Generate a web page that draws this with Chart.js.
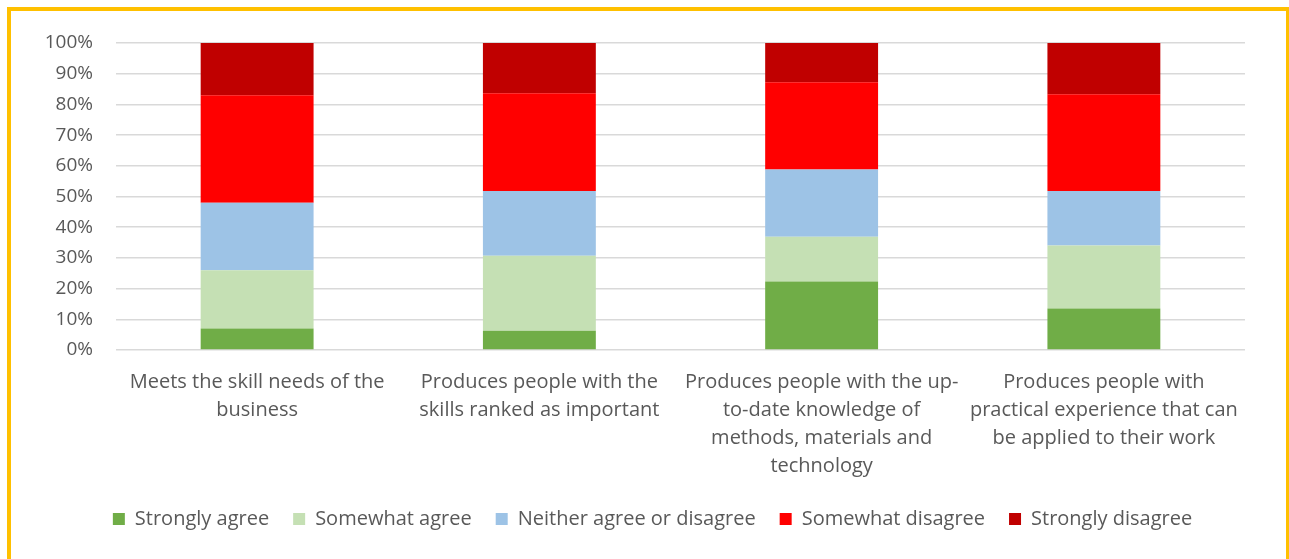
<!DOCTYPE html>
<html>
<head>
<meta charset="utf-8">
<script src="https://cdn.jsdelivr.net/npm/chart.js@4.4.1/dist/chart.umd.min.js"></script>
<style>
  html, body { margin: 0; padding: 0; background: #fff; }
  #wrap { position: relative; width: 1289px; height: 559px; }
  #frame { position: absolute; left: 7px; top: 7px; width: 1275px; height: 560px; border: 4px solid #FFC000; pointer-events: none; }
  canvas { position: absolute; left: 0; top: 0; }
</style>
</head>
<body>
<div id="wrap">
  <canvas id="chart" width="1289" height="559"></canvas>
  <div id="frame"></div>
</div>
<script>
// категории (подписи по оси X, многострочные)
const categories = [
    ['Meets the skill needs of the', 'business'],
    ['Produces people with the', 'skills ranked as important'],
    ['Produces people with the up-', 'to-date knowledge of', 'methods, materials and', 'technology'],
    ['Produces people with', 'practical experience that can', 'be applied to their work']
];

// доли ответов, %
const stronglyAgree = [7, 6.3, 22.3, 13.5];
const somewhatAgree = [19, 24.4, 14.6, 20.5];
const neitherAgree = [22, 21.1, 21.9, 17.8];
const somewhatDisagree = [35, 31.8, 28.4, 31.5];
const stronglyDisagree = [17, 16.4, 12.8, 16.7];

const yTicks = [0, 10, 20, 30, 40, 50, 60, 70, 80, 90, 100];

const textColor = '#595959';
const fontFamily = '"Open Sans", "Noto Sans", sans-serif';

function makeSet(label, data, color) {
    return {
        label: label,
        data: data,
        backgroundColor: color,
        borderWidth: 0,
        barPercentage: 0.4,
        categoryPercentage: 1
    };
}

// сдвигаем легенду вправо, чтобы она стояла по центру рамки
const legendShift = {
    id: 'legendShift',
    afterLayout(chart) {
        chart.legend.left += 30;
        chart.legend.right += 30;
    }
};

new Chart(document.getElementById('chart'), {
    type: 'bar',
    data: {
        labels: categories,
        datasets: [
            makeSet('Strongly agree', stronglyAgree, '#70AD47'),
            makeSet('Somewhat agree', somewhatAgree, '#C5E0B4'),
            makeSet('Neither agree or disagree', neitherAgree, '#9DC3E6'),
            makeSet('Somewhat disagree', somewhatDisagree, '#FF0000'),
            makeSet('Strongly disagree', stronglyDisagree, '#C00000')
        ]
    },
    plugins: [legendShift],
    options: {
        responsive: false,
        animation: false,
        layout: { padding: { top: 43, right: 44, left: 0, bottom: 20 } },
        plugins: {
            tooltip: { enabled: false },
            legend: {
                position: 'bottom',
                labels: {
                    color: textColor,
                    font: { family: fontFamily, size: 20 },
                    boxWidth: 12,
                    boxHeight: 12,
                    padding: 24
                }
            }
        },
        scales: {
            x: {
                stacked: true,
                grid: { display: false, drawTicks: false },
                border: { display: false },
                ticks: {
                    color: textColor,
                    font: { family: fontFamily, size: 20, lineHeight: 1.4 },
                    padding: 18,
                    maxRotation: 0,
                    autoSkip: false
                },
                afterFit: function (scale) { scale.height = 135; }
            },
            y: {
                stacked: true,
                min: 0,
                max: 100,
                afterBuildTicks: function (scale) {
                    scale.ticks = yTicks.map(v => ({ value: v }));
                },
                grid: { color: '#d9d9d9', lineWidth: 1.5, drawTicks: false },
                border: { display: false },
                ticks: {
                    color: textColor,
                    font: { family: fontFamily, size: 19 },
                    padding: 23,
                    callback: v => v + '%'
                },
                afterFit: function (scale) { scale.width = 116; }
            }
        }
    }
});
</script>
</body>
</html>
